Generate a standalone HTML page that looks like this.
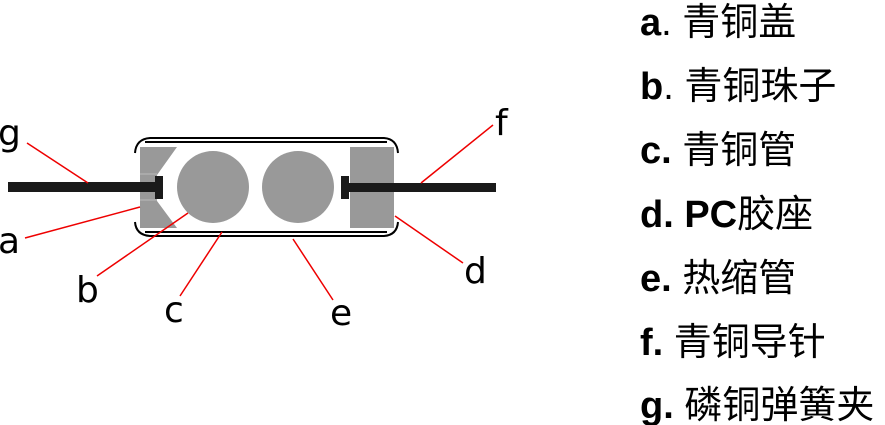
<!DOCTYPE html>
<html><head><meta charset="utf-8"><style>
html,body{margin:0;padding:0;background:#fff;}
svg{display:block;}
.lbl{font-family:"DejaVu Sans","Liberation Sans",sans-serif;font-size:36px;fill:#000;}
.leg{font-family:"Liberation Sans","Noto Sans CJK SC",sans-serif;font-size:38px;fill:#000;}
</style></head><body>
<svg width="885" height="425" viewBox="0 0 885 425" xmlns="http://www.w3.org/2000/svg">
<path d="M135,153 Q136,139 150,138 L384,138 Q397,139 398,153" fill="none" stroke="#000" stroke-width="2"/>
<path d="M135,222 Q136,235 150,236 L384,236 Q397,235 398,222" fill="none" stroke="#000" stroke-width="2"/>
<line x1="145" y1="142" x2="387" y2="142" stroke="#000" stroke-width="2"/>
<line x1="145" y1="232" x2="387" y2="232" stroke="#000" stroke-width="2"/>
<polygon points="140,147 177,147 157,175 157,201 177,228 140,228" fill="#999"/>
<line x1="140" y1="174" x2="157" y2="174" stroke="#bbb" stroke-width="1"/>
<line x1="140" y1="200" x2="157" y2="200" stroke="#bbb" stroke-width="1"/>
<rect x="350" y="147" width="44" height="81" fill="#999"/>
<circle cx="213" cy="187" r="36" fill="#999"/>
<circle cx="298" cy="187" r="36" fill="#999"/>
<rect x="8" y="182" width="155" height="10" fill="#1a1a1a"/>
<rect x="155" y="176" width="8" height="23" fill="#1a1a1a"/>
<rect x="341" y="183" width="155" height="9" fill="#1a1a1a"/>
<rect x="341" y="176" width="8" height="23" fill="#1a1a1a"/>
<g stroke="#e00" stroke-width="1.5">
<line x1="27" y1="143" x2="88" y2="183"/>
<line x1="25" y1="238" x2="140" y2="207"/>
<line x1="97" y1="276" x2="188" y2="213"/>
<line x1="180" y1="296" x2="222" y2="232"/>
<line x1="333" y1="300" x2="293" y2="239"/>
<line x1="463" y1="263" x2="395" y2="216"/>
<line x1="493" y1="125" x2="421" y2="183"/>
</g>
<text class="lbl" x="-2" y="145">g</text>
<text class="lbl" x="-2" y="253">a</text>
<text class="lbl" x="76" y="302">b</text>
<text class="lbl" x="164" y="322">c</text>
<text class="lbl" x="330" y="325">e</text>
<text class="lbl" x="464" y="283">d</text>
<text class="lbl" x="495" y="135">f</text>
<text class="leg" x="640" y="35"><tspan font-weight="bold">a</tspan>. 青铜盖</text>
<text class="leg" x="640" y="99"><tspan font-weight="bold">b</tspan>. 青铜珠子</text>
<text class="leg" x="640" y="163"><tspan font-weight="bold">c.</tspan> 青铜管</text>
<text class="leg" x="640" y="227"><tspan font-weight="bold">d. PC</tspan>胶座</text>
<text class="leg" x="640" y="291"><tspan font-weight="bold">e.</tspan> 热缩管</text>
<text class="leg" x="640" y="355"><tspan font-weight="bold">f.</tspan> 青铜导针</text>
<text class="leg" x="640" y="418"><tspan font-weight="bold">g.</tspan> 磷铜弹簧夹</text>
</svg>
</body></html>
